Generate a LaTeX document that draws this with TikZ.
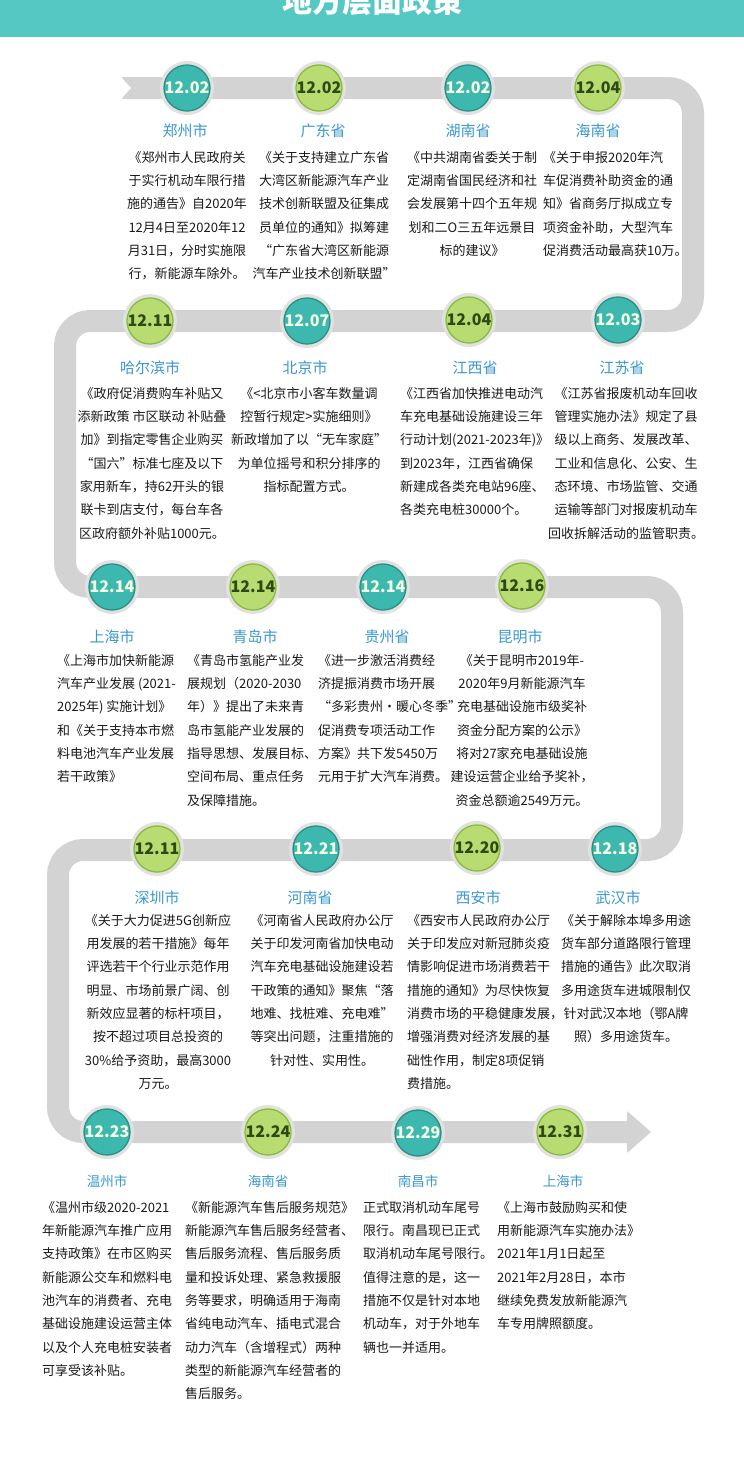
\documentclass[tikz,border=0pt]{standalone}
\usepackage{fontspec}
\setmainfont{Noto Sans CJK SC}
\newfontfamily\cjk{Noto Sans CJK SC}
\definecolor{titleteal}{HTML}{56C8C3}
\definecolor{bandgray}{HTML}{D3D3D3}
\definecolor{halo}{HTML}{E1E1E1}
\definecolor{tealfill}{HTML}{3DB8AE}
\definecolor{tealedge}{HTML}{2A8F87}
\definecolor{tealtext}{HTML}{F4FFE4}
\definecolor{greenfill}{HTML}{B8DC72}
\definecolor{greenedge}{HTML}{88BC38}
\definecolor{greentext}{HTML}{2E4A12}
\definecolor{citycol}{HTML}{3A98CF}
\definecolor{bodytext}{HTML}{1A1A1A}
\tikzset{
  band/.style={draw=bandgray, line width=22pt, rounded corners=25pt},
  datebase/.style={circle, minimum size=44pt, inner sep=0pt, line width=1.3pt, font=\cjk\bfseries\fontsize{16}{16}\selectfont},
  tealdate/.style={datebase, fill=tealfill, draw=tealedge, text=tealtext},
  greendate/.style={datebase, fill=greenfill, draw=greenedge, text=greentext},
  city/.style={inner sep=0pt, text=citycol, font=\cjk\fontsize{15}{15}\selectfont},
  citysmall/.style={inner sep=0pt, text=citycol, font=\cjk\fontsize{13.5}{13.5}\selectfont},
  bodyc/.style={inner sep=0pt, anchor=north, align=center, text=bodytext, font=\cjk\fontsize{13}{23.3}\selectfont},
  bodyl/.style={inner sep=0pt, anchor=north west, align=left, text=bodytext, font=\cjk\fontsize{13}{23.3}\selectfont},
}
\begin{document}
\begin{tikzpicture}[x=1pt, y=-1pt]
\useasboundingbox (0,0) rectangle (744,1460);
\fill[white] (0,0) rectangle (744,1460);
% title band
\fill[titleteal] (0,0) rectangle (744,37);
\node[text=white, font=\cjk\bfseries\fontsize{30}{30}\selectfont] (title) at (372,1) {地方层面政策};
% timeline band
\draw[band] (122,88) -- (693,88) -- (693,321) -- (65,321) -- (65,587) -- (672,587) -- (672,850) -- (58,850) -- (58,1132) -- (628,1132);
\fill[white] (120,76) -- (131,88) -- (120,100) -- cycle;
\fill[bandgray] (627,1111) -- (651,1132) -- (627,1153) -- cycle;
% date circles
\foreach \n/\x/\y/\s/\d in {
  d1/187/88/tealdate/12.02, d2/319/88/greendate/12.02, d3/468/88/tealdate/12.02, d4/598/88/greendate/12.04,
  d5/150/321/greendate/12.11, d6/307/321/tealdate/12.07, d7/469/320/greendate/12.04, d8/618/320/tealdate/12.03,
  d9/112/587/tealdate/12.14, d10/253/587/greendate/12.14, d11/383/587/tealdate/12.14, d12/522/586/greendate/12.16,
  d13/157/849/greendate/12.11, d14/316/849/tealdate/12.21, d15/477/848/greendate/12.20, d16/615/849/tealdate/12.18,
  d17/107/1132/tealdate/12.23, d18/268/1132/greendate/12.24, d19/418/1133/tealdate/12.29, d20/560/1132/greendate/12.31}
{
  \fill[halo] (\x,\y) circle (27pt);
  \node[\s] (\n) at (\x,\y) {\d};
}
% row 1
\node[city] (c1) at (185,131) {郑州市};
\node[city] (c2) at (323,131) {广东省};
\node[city] (c3) at (468,131) {湖南省};
\node[city] (c4) at (598,131) {海南省};
\node[bodyc] (t1) at (187,151) {《郑州市人民政府关\\于实行机动车限行措\\施的通告》自2020年\\12月4日至2020年12\\月31日，分时实施限\\行，新能源车除外。};
\node[bodyc] (t2) at (324,151) {《关于支持建立广东省\\大湾区新能源汽车产业\\技术创新联盟及征集成\\员单位的通知》拟筹建\\“广东省大湾区新能源\\汽车产业技术创新联盟”};
\node[bodyc] (t3) at (472,151) {《中共湖南省委关于制\\定湖南省国民经济和社\\会发展第十四个五年规\\划和二O三五年远景目\\标的建议》};
\node[bodyl] (t4) at (543,151) {《关于申报2020年汽\\车促消费补助资金的通\\知》省商务厅拟成立专\\项资金补助，大型汽车\\促消费活动最高获10万。};
% row 2
\node[city] (c5) at (150,368) {哈尔滨市};
\node[city] (c6) at (305,368) {北京市};
\node[city] (c7) at (475,368) {江西省};
\node[city] (c8) at (622,368) {江苏省};
\node[bodyc] (t5) at (152,387) {《政府促消费购车补贴又\\添新政策 市区联动 补贴叠\\加》到指定零售企业购买\\“国六”标准七座及以下\\家用新车，持62开头的银\\联卡到店支付，每台车各\\区政府额外补贴1000元。};
\node[bodyc] (t6) at (309,387) {《<北京市小客车数量调\\控暂行规定>实施细则》\\新政增加了以“无车家庭”\\为单位摇号和积分排序的\\指标配置方式。};
\node[bodyl] (t7) at (400,387) {《江西省加快推进电动汽\\车充电基础设施建设三年\\行动计划(2021-2023年)》\\到2023年，江西省确保\\新建成各类充电站96座、\\各类充电桩30000个。};
\node[bodyc] (t8) at (626,387) {《江苏省报废机动车回收\\管理实施办法》规定了县\\级以上商务、发展改革、\\工业和信息化、公安、生\\态环境、市场监管、交通\\运输等部门对报废机动车\\回收拆解活动的监管职责。};
% row 3
\node[city] (c9) at (112,637) {上海市};
\node[city] (c10) at (255,637) {青岛市};
\node[city] (c11) at (387,637) {贵州省};
\node[city] (c12) at (520,637) {昆明市};
\node[bodyl] (t9) at (57,654) {《上海市加快新能源\\汽车产业发展 (2021-\\2025年) 实施计划》\\和《关于支持本市燃\\料电池汽车产业发展\\若干政策》};
\node[bodyl] (t10) at (187,654) {《青岛市氢能产业发\\展规划（2020-2030\\年）》提出了未来青\\岛市氢能产业发展的\\指导思想、发展目标、\\空间布局、重点任务\\及保障措施。};
\node[bodyl] (t11) at (318,654) {《进一步激活消费经\\济提振消费市场开展\\“多彩贵州·暖心冬季”\\促消费专项活动工作\\方案》共下发5450万\\元用于扩大汽车消费。};
\node[bodyc] (t12) at (522,654) {《关于昆明市2019年-\\2020年9月新能源汽车\\充电基础设施市级奖补\\资金分配方案的公示》\\将对27家充电基础设施\\建设运营企业给予奖补，\\资金总额逾2549万元。};
% row 4
\node[city] (c13) at (157,898) {深圳市};
\node[city] (c14) at (310,898) {河南省};
\node[city] (c15) at (478,898) {西安市};
\node[city] (c16) at (618,898) {武汉市};
\node[bodyc] (t13) at (158,914) {《关于大力促进5G创新应\\用发展的若干措施》每年\\评选若干个行业示范作用\\明显、市场前景广阔、创\\新效应显著的标杆项目，\\按不超过项目总投资的\\30\%给予资助，最高3000\\万元。};
\node[bodyc] (t14) at (322,914) {《河南省人民政府办公厅\\关于印发河南省加快电动\\汽车充电基础设施建设若\\干政策的通知》聚焦“落\\地难、找桩难、充电难”\\等突出问题，注重措施的\\针对性、实用性。};
\node[bodyl] (t15) at (407,914) {《西安市人民政府办公厅\\关于印发应对新冠肺炎疫\\情影响促进市场消费若干\\措施的通知》为尽快恢复\\消费市场的平稳健康发展，\\增强消费对经济发展的基\\础性作用，制定8项促销\\费措施。};
\node[bodyc] (t16) at (626,914) {《关于解除本埠多用途\\货车部分道路限行管理\\措施的通告》此次取消\\多用途货车进城限制仅\\针对武汉本地（鄂A牌\\照）多用途货车。};
% row 5
\node[citysmall] (c17) at (107,1181) {温州市};
\node[citysmall] (c18) at (268,1181) {海南省};
\node[citysmall] (c19) at (418,1181) {南昌市};
\node[citysmall] (c20) at (563,1181) {上海市};
\node[bodyl] (t17) at (42,1201) {《温州市级2020-2021\\年新能源汽车推广应用\\支持政策》在市区购买\\新能源公交车和燃料电\\池汽车的消费者、充电\\基础设施建设运营主体\\以及个人充电桩安装者\\可享受该补贴。};
\node[bodyl] (t18) at (185,1201) {《新能源汽车售后服务规范》\\新能源汽车售后服务经营者、\\售后服务流程、售后服务质\\量和投诉处理、紧急救援服\\务等要求，明确适用于海南\\省纯电动汽车、插电式混合\\动力汽车（含增程式）两种\\类型的新能源汽车经营者的\\售后服务。};
\node[bodyl] (t19) at (363,1201) {正式取消机动车尾号\\限行。南昌现已正式\\取消机动车尾号限行。\\值得注意的是，这一\\措施不仅是针对本地\\机动车，对于外地车\\辆也一并适用。};
\node[bodyl] (t20) at (497,1201) {《上海市鼓励购买和使\\用新能源汽车实施办法》\\2021年1月1日起至\\2021年2月28日，本市\\继续免费发放新能源汽\\车专用牌照额度。};
\end{tikzpicture}
\end{document}
